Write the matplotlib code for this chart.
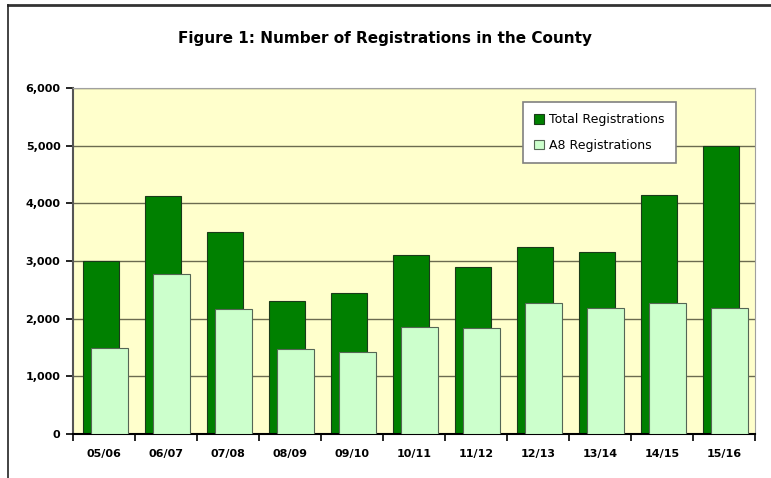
import numpy as np
import matplotlib.pyplot as plt
from matplotlib.lines import Line2D

# Registration counts per year
years = ['05/06', '06/07', '07/08', '08/09', '09/10', '10/11',
         '11/12', '12/13', '13/14', '14/15', '15/16']
total_regs = [3000, 4120, 3500, 2310, 2450, 3100, 2900, 3240, 3150, 4150, 5000]
a8_regs = [1500, 2770, 2160, 1470, 1420, 1850, 1830, 2270, 2190, 2270, 2180]

fig = plt.figure(figsize=(7.71, 4.78), dpi=100)
ax = fig.add_axes([73 / 771, 44 / 478, 682 / 771, 346 / 478])
ax.set_facecolor('#FFFFCC')

x = np.arange(len(years))
w = 0.59
ax.bar(x - 0.05, total_regs, width=w, color='#008000', edgecolor='#1a3a1a',
       linewidth=0.8, label='Total Registrations', zorder=2)
ax.bar(x + 0.085, a8_regs, width=w, color='#CCFFCC', edgecolor='#556655',
       linewidth=0.8, label='A8 Registrations', zorder=3)

ax.set_xlim(-0.5, len(years) - 0.5)
ax.set_ylim(0, 6000)
ax.set_yticks(range(0, 6001, 1000))
ax.set_yticklabels([f'{v:,}' for v in range(0, 6001, 1000)],
                   fontsize=8, fontweight='bold')
ax.yaxis.grid(True, color='#6b6b50', linewidth=1.0, zorder=1)
ax.set_axisbelow(True)

# category boundary ticks with labels in the middle
ax.set_xticks(np.arange(-0.5, len(years), 1.0))
ax.set_xticklabels([])
ax.set_xticks(x, minor=True)
ax.set_xticklabels(years, minor=True, fontsize=8, fontweight='bold')
ax.tick_params(axis='x', which='major', direction='out', length=5, width=1.2)
ax.tick_params(axis='x', which='minor', length=0, pad=11)
ax.tick_params(axis='y', direction='out', length=5, width=1.2, pad=4)

ax.spines['top'].set_color('#a0a0a0')
ax.spines['right'].set_color('#a0a0a0')
ax.spines['left'].set_color('#555555')
ax.spines['left'].set_linewidth(1.5)
ax.spines['bottom'].set_color('black')
ax.spines['bottom'].set_linewidth(1.5)

leg = ax.legend(loc='upper left', bbox_to_anchor=(450 / 682, 1 - 14 / 346),
                borderaxespad=0, fontsize=9, frameon=True, fancybox=False,
                framealpha=1, facecolor='white',
                edgecolor='#808080', handlelength=0.8, handleheight=0.8,
                handletextpad=0.4, labelspacing=1.0, borderpad=0.9)
leg.get_frame().set_linewidth(1.2)

fig.text(385 / 771, 1 - 38 / 478, 'Figure 1: Number of Registrations in the County',
         ha='center', va='center', fontsize=11, fontweight='bold')

# outer frame (top and left edges)
fig.add_artist(Line2D([8 / 771, 1], [1 - 5 / 478] * 2, color='#333333', lw=2))
fig.add_artist(Line2D([8 / 771] * 2, [0, 1 - 5 / 478], color='#222222', lw=1.2))

fig.savefig('out.png', dpi=100)
